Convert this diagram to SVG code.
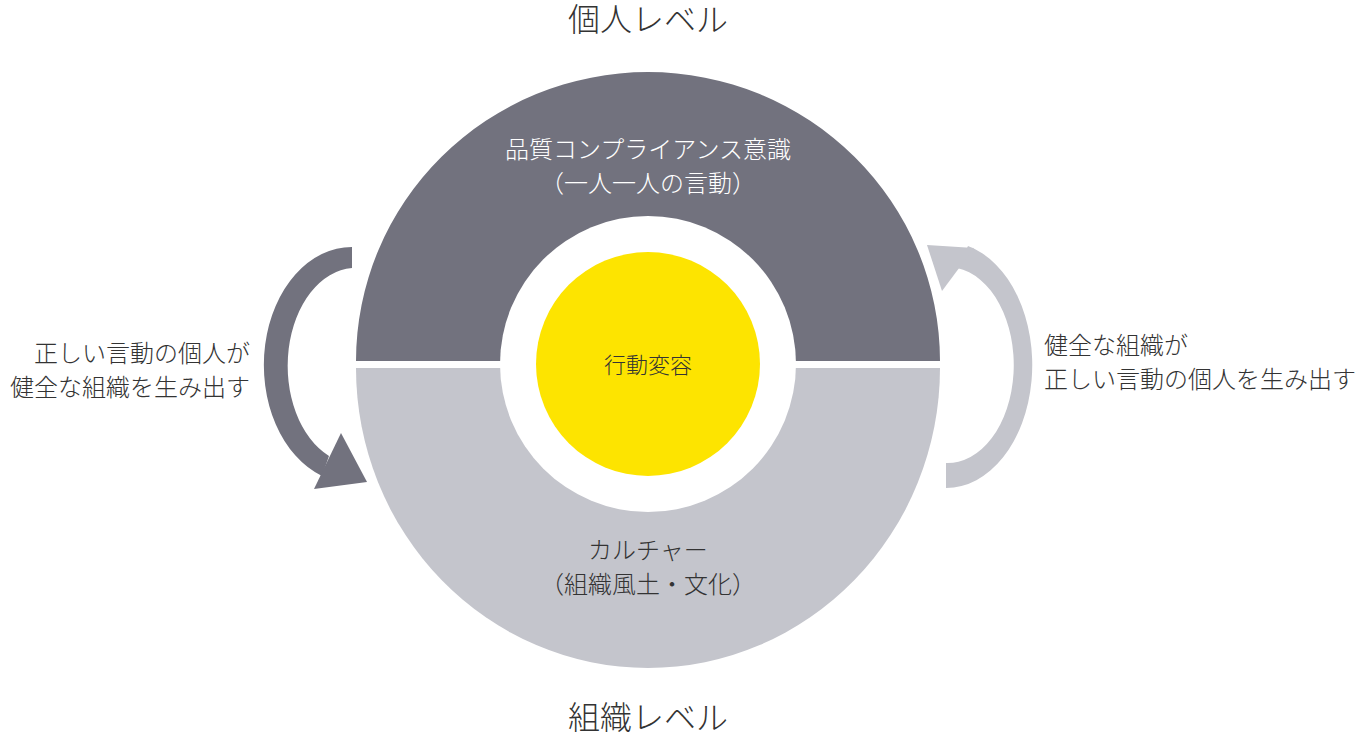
<svg xmlns="http://www.w3.org/2000/svg" width="1368" height="736" viewBox="0 0 1368 736">
<style>
text{font-family:"Noto Sans CJK JP","Noto Sans",sans-serif;fill:#333;font-weight:300}
.t{font-size:32px}.m{font-size:24px}.w{fill:#fff}
</style>
<rect width="1368" height="736" fill="#fff"/>
<g id="upper"><path d="M356 361 A292 289 0 0 1 940 361 Z" fill="#72727e"/></g>
<g id="lower"><path d="M356 368 A292 300 0 0 0 940 368 Z" fill="#c4c5cc"/></g>
<circle cx="648" cy="364" r="148" fill="#fff"/>
<g id="center"><circle cx="648" cy="364" r="112" fill="#fde400"/>
<text class="m" x="648" y="373" text-anchor="middle" style="font-size:22px">行動変容</text></g>
<g id="connectors">
<path d="M352 247 A88 118 0 0 0 322 476 L329 456 A68 98 0 0 1 352 268 Z" fill="#72727e"/>
<polygon points="341,433 367,482 314,489" fill="#72727e"/>
<path d="M946 488 A86 123 0 0 0 968 246 L957 268 A66 98 0 0 1 946 463 Z" fill="#c4c5cc"/>
<polygon points="927,245 974,248 942,291" fill="#c4c5cc"/>
</g>
<text class="t" x="648" y="31" text-anchor="middle">個人レベル</text>
<text class="t" x="648" y="729" text-anchor="middle">組織レベル</text>
<text class="m w" x="648" y="158" text-anchor="middle">品質コンプライアンス意識</text>
<text class="m w" x="648" y="192" text-anchor="middle">（一人一人の言動）</text>
<text class="m" x="648" y="559" text-anchor="middle">カルチャー</text>
<text class="m" x="648" y="593" text-anchor="middle">（組織風土・文化）</text>
<text class="m" x="250" y="362" text-anchor="end">正しい言動の個人が</text>
<text class="m" x="250" y="396" text-anchor="end">健全な組織を生み出す</text>
<text class="m" x="1044" y="354">健全な組織が</text>
<text class="m" x="1044" y="388">正しい言動の個人を生み出す</text>
</svg>
